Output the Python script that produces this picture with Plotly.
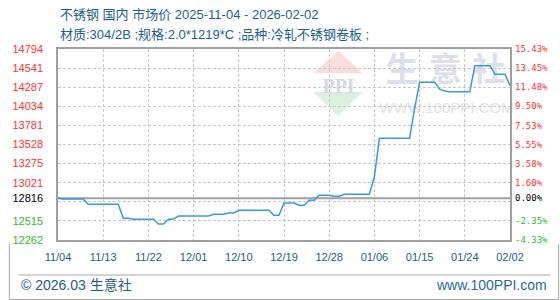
import plotly.graph_objects as go
import pandas as pd

# ---------------- data ----------------
dates = pd.date_range("2025-11-04", "2026-02-02", freq="D")
prices = [
    12816, 12805, 12805, 12805, 12805, 12805,                 # 11/04 - 11/09
    12735, 12735, 12735, 12735, 12735, 12735, 12735,          # 11/10 - 11/16
    12550, 12550, 12537, 12537, 12537, 12537, 12537,          # 11/17 - 11/23
    12474, 12474, 12537, 12540, 12580, 12580, 12580,          # 11/24 - 11/30
    12580, 12580, 12580, 12580, 12603, 12603, 12603,          # 12/01 - 12/07
    12620, 12620, 12656, 12656, 12656, 12656, 12656,          # 12/08 - 12/14
    12656, 12656, 12589, 12589, 12752, 12752, 12752,          # 12/15 - 12/21
    12722, 12722, 12788, 12788, 12855, 12855, 12855,          # 12/22 - 12/28
    12841, 12841, 12868, 12868, 12868, 12868, 12868,          # 12/29 - 01/04
    12868, 13100, 13610, 13610, 13610, 13610, 13610,          # 01/05 - 01/11
    13610, 13610, 14000, 14353, 14353, 14353, 14353,          # 01/12 - 01/18
    14262, 14236, 14228, 14228, 14228, 14228, 14228,          # 01/19 - 01/25
    14573, 14573, 14573, 14573, 14459, 14459, 14459,          # 01/26 - 02/01
    14308,                                                    # 02/02
]
x_tick_labels = ["11/04", "11/13", "11/22", "12/01", "12/10", "12/19",
                 "12/28", "01/06", "01/15", "01/24", "02/02"]
grid_values = [12262, 12515, 12768, 13021, 13275, 13528, 13781, 14034,
               14287, 14541, 14794]
left_tick_values = [12262, 12515, 12816, 13021, 13275, 13528, 13781, 14034,
                    14287, 14541, 14794]
pct_labels = ["-4.33%", "-2.35%", "0.00%", "1.60%", "3.58%", "5.55%",
              "7.53%", "9.50%", "11.48%", "13.45%", "15.43%"]

title_line1 = "不锈钢 国内 市场价 2025-11-04 - 2026-02-02"
title_line2 = "材质:304/2B ;规格:2.0*1219*C ;品种:冷轧不锈钢卷板 ;"
footer_left = "© 2026.03 生意社"
footer_right = "www.100PPI.com"

base = prices[0]

# ---------------- styling helpers ----------------
W, H = 560, 300
L, R, T, B = 50, 50, 49, 60
PW, PH = W - L - R, H - T - B


def px(x):
    return (x - L) / PW


def py(y):
    return (H - B - y) / PH


RED, GREEN, BLACK = "#ff3333", "#2fbb2f", "#000000"


def col(v):
    if v > base:
        return RED
    if v < base:
        return GREEN
    return BLACK


left_text = [f'<span style="color:{col(v)}">{v}</span>' for v in left_tick_values]
right_text = [f'<span style="color:{col(v)}">{t}</span>'
              for v, t in zip(left_tick_values, pct_labels)]

fig = go.Figure()
fig.add_trace(go.Scatter(
    x=dates, y=prices, mode="lines",
    line=dict(color="#3d9ad8", width=1.5),
    hoverinfo="skip", showlegend=False,
))
for ya in ("y2", "y3"):
    fig.add_trace(go.Scatter(x=dates, y=prices, yaxis=ya, mode="lines",
                             opacity=0, hoverinfo="skip", showlegend=False))

latin_cjk = "Liberation Sans, Noto Sans CJK SC"
yr = [grid_values[0], grid_values[-1]]

fig.update_layout(
    width=W, height=H,
    margin=dict(l=L, r=R, t=T, b=B, pad=0),
    paper_bgcolor="white",
    plot_bgcolor="rgba(0,0,0,0)",
    showlegend=False,
    xaxis=dict(
        type="date",
        range=[dates[0], dates[-1]],
        tickvals=list(dates[::9]), ticktext=x_tick_labels,
        showgrid=True, gridcolor="#c8c8c8", griddash="3px,2px", gridwidth=1,
        showline=True, mirror=True, linecolor="#a0a0a0", linewidth=2,
        ticks="", ticklabelstandoff=6,
        tickfont=dict(family="Liberation Sans", size=11, color="#1b5e8e"),
        zeroline=False, fixedrange=True,
    ),
    yaxis=dict(
        range=yr, tickvals=grid_values, showticklabels=False,
        showgrid=True, gridcolor="#c8c8c8", griddash="3px,2px", gridwidth=1,
        showline=True, mirror=True, linecolor="#a0a0a0", linewidth=2,
        ticks="", zeroline=False, fixedrange=True,
    ),
    yaxis2=dict(
        range=yr, overlaying="y", side="left", anchor="x",
        tickvals=left_tick_values, ticktext=left_text,
        showgrid=False, showline=False, zeroline=False, ticks="",
        ticklabelstandoff=14,
        tickfont=dict(family="Liberation Sans", size=11),
        fixedrange=True,
    ),
    yaxis3=dict(
        range=yr, overlaying="y", side="right", anchor="x",
        tickvals=left_tick_values, ticktext=right_text,
        showgrid=False, showline=False, zeroline=False, ticks="",
        ticklabelstandoff=4,
        tickfont=dict(family="DejaVu Sans Mono", size=9),
        fixedrange=True,
    ),
)

shapes = []
# baseline at the first value
shapes.append(dict(type="line", xref="paper", yref="y", x0=0, x1=1,
                   y0=base, y1=base, line=dict(color="#a0a0a0", width=2),
                   layer="between"))
# watermark logo
shapes.append(dict(type="path", xref="paper", yref="paper",
                   path=f"M {px(310.7)},{py(73)} L {px(360)},{py(73)} L {px(335.3)},{py(50.7)} Z",
                   fillcolor="#fadcdc", line=dict(width=0), layer="below"))
shapes.append(dict(type="path", xref="paper", yref="paper",
                   path=f"M {px(310)},{py(92)} L {px(360)},{py(92)} L {px(335)},{py(116)} Z",
                   fillcolor="#dcf0df", line=dict(width=0), layer="below"))


def label_box(cx, cy, text, size, color, family, weight=400, w=20, h=12):
    return dict(type="rect", xref="paper", yref="paper",
                x0=px(cx - w), x1=px(cx + w), y0=py(cy + h), y1=py(cy - h),
                line=dict(width=0), fillcolor="rgba(0,0,0,0)", layer="below",
                label=dict(text=text, textposition="middle center",
                           font=dict(size=size, color=color, family=family,
                                     weight=weight)))


shapes.append(label_box(335.5, 83.5, "PPI", 20, "#d3dae8",
                        "Liberation Serif", 700))
for cx, ch in zip([400, 444, 488], "生意社"):
    shapes.append(label_box(cx, 71.5, ch, 33, "#dde0ea", "Noto Sans CJK SC", 700))
shapes.append(label_box(445.5, 106, "WWW.100PPI.COM", 15, "#e2e2e2",
                        "Liberation Sans", 400, w=70))
# footer separator and frame
shapes.append(dict(type="line", xref="paper", yref="paper",
                   x0=px(10), x1=px(551), y0=py(275), y1=py(275),
                   line=dict(color="#a8a8a8", width=1)))
shapes.append(dict(type="path", xref="paper", yref="paper",
                   path=f"M {px(0.5)},{py(244)} L {px(0.5)},{py(299.5)} "
                        f"L {px(559.5)},{py(299.5)} L {px(559.5)},{py(244)}",
                   line=dict(color="#a8a8a8", width=1)))
fig.update_layout(shapes=shapes)

annotations = [
    dict(text=title_line1, x=px(50), y=py(14.5), xanchor="left", yanchor="middle"),
    dict(text=title_line2, x=px(50), y=py(34), xanchor="left", yanchor="middle"),
]
for a in annotations:
    a.update(xref="paper", yref="paper", showarrow=False,
             font=dict(family=latin_cjk, size=13, color="#1e5f8f"))
annotations.append(dict(text=footer_left, x=px(10), y=py(285), xref="paper",
                        yref="paper", xanchor="left", yanchor="middle",
                        showarrow=False,
                        font=dict(family=latin_cjk, size=14, color="#1e5c8e")))
annotations.append(dict(text=footer_right, x=px(549.5), y=py(285), xref="paper",
                        yref="paper", xanchor="right", yanchor="middle",
                        showarrow=False,
                        font=dict(family="Liberation Sans", size=14, color="#2a6a9e")))
fig.update_layout(annotations=annotations)

fig.write_html("out.html", config={"displayModeBar": False})
